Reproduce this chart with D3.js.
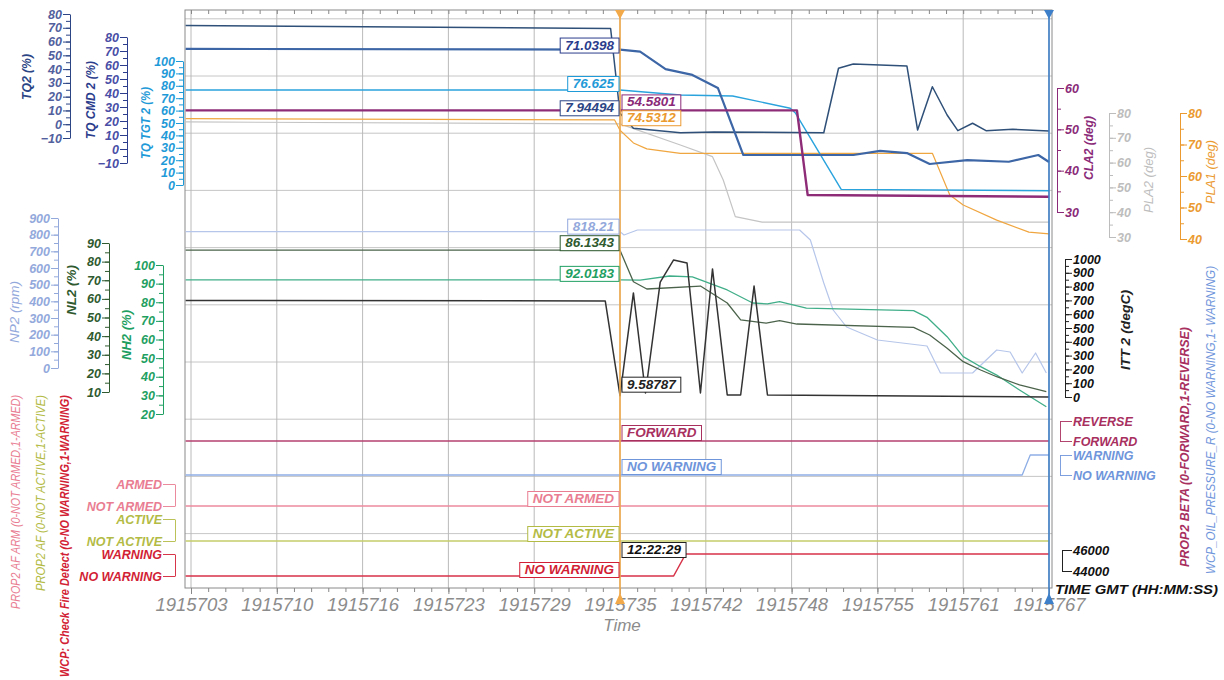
<!DOCTYPE html>
<html>
<head>
<meta charset="utf-8">
<script src="https://cdn.jsdelivr.net/npm/d3@7"></script>
<style>
body { margin: 0; background: #fff; }
text { font-family: "Liberation Sans", Arial, sans-serif; font-style: italic; }
</style>
</head>
<body>
<div id="chart"></div>
<script>
// ---- data (time in s, values in axis units) ----
const xTickLabels = ['1915703', '1915710', '1915716', '1915723', '1915729', '1915735',
    '1915742', '1915748', '1915755', '1915761', '1915767'];
const tStart = 1915703, tEnd = 1915767, tCursor = 1915735;

const tq2 = [[1915702.6, 71.6], [1915734.3, 69.5], [1915735, 7.94], [1915736, -3], [1915739.5, -6.2],
    [1915742, -5.6], [1915750.2, -6.2], [1915751.3, 40.6], [1915752.4, 43.7], [1915756.4, 42.3],
    [1915757.2, -4.2], [1915758.3, 27.2], [1915759.4, 6.7], [1915760.2, -4.7], [1915761.3, 0.7],
    [1915762.3, -4.7], [1915764.3, -3.7], [1915767, -4.9]];
const tqCmd2 = [[1915702.6, 71.5], [1915735, 71.04], [1915736.5, 69.6], [1915738.4, 57.1],
    [1915740.4, 52.9], [1915742.3, 43.6], [1915744.2, -4.3], [1915752.4, -4.3], [1915754.4, -1.4],
    [1915756.4, -2.9], [1915758.1, -10.7], [1915760.9, -7.9], [1915764, -9.1], [1915766.2, -4.3],
    [1915767, -9.3]];
const tqTgt2 = [[1915702.6, 76.625], [1915735, 76.625], [1915739.5, 72.6], [1915743.4, 71.8],
    [1915747.7, 61.9], [1915748.1, 57.8], [1915751.5, -3.5], [1915767, -4.6]];
const cla2 = [[1915702.6, 54.58], [1915748.2, 54.58], [1915749, 34.1], [1915767, 33.7]];
const pla2 = [[1915702.6, 76.4], [1915735, 75.6], [1915739.5, 67.1], [1915741.9, 62.4],
    [1915742.7, 53], [1915743.6, 38.2], [1915745.6, 36], [1915767, 36]];
const pla1 = [[1915702.6, 78.2], [1915734.6, 77.8], [1915735, 74.53], [1915736, 70.5],
    [1915737, 68.6], [1915739.5, 67.2], [1915758.3, 67.2], [1915759.6, 54], [1915760.6, 50.8],
    [1915763.1, 46], [1915765.5, 42.2], [1915767, 41.6]];

const np2 = [[1915702.6, 818.21], [1915735, 818.21], [1915735.3, 798], [1915736.3, 828],
    [1915748.4, 828], [1915749.2, 768], [1915750.2, 510], [1915750.9, 348], [1915751.9, 246],
    [1915754.2, 168], [1915757.9, 132], [1915758.9, -30], [1915761.3, -30], [1915763.1, 108],
    [1915764.1, 96], [1915765, -30], [1915766, 90], [1915766.8, -30]];
const nl2 = [[1915702.6, 86.13], [1915735, 86.13], [1915736, 69.2], [1915737, 65.3],
    [1915741, 66.9], [1915743, 57.8], [1915744, 48.7], [1915745.9, 47], [1915746.9, 48.3],
    [1915748.2, 46.5], [1915756.9, 44.7], [1915758.1, 40.6], [1915759.4, 33.5], [1915760.6, 26.3],
    [1915761.9, 21.8], [1915763.1, 18.2], [1915764.8, 13.8], [1915766.8, 10.2]];
const nh2 = [[1915702.6, 92.02], [1915735, 92.02], [1915736.5, 91.9], [1915738.7, 94.1],
    [1915740.4, 93.6], [1915743, 86.6], [1915744.9, 79.6], [1915746, 79.1], [1915746.9, 80.3],
    [1915748.9, 76.8], [1915756.9, 75.5], [1915757.9, 71.9], [1915759.4, 61.5], [1915760.6, 50.8],
    [1915761.9, 45.4], [1915763.1, 40.9], [1915764.8, 32.9], [1915766.8, 23.9]];
const itt2 = [[1915702.6, 700], [1915733.9, 696], [1915735, 9.59], [1915736, 754], [1915736.9, 29],
    [1915738, 833], [1915739, 993], [1915740, 971], [1915741, 29], [1915741.9, 928],
    [1915743, 14.5], [1915744, 14.5], [1915745, 804], [1915746, 14.5], [1915767, 0]];

const prop2Beta = [[1915702.6, 0], [1915767, 0]];
const oilPressure = [[1915702.6, 0], [1915765, 0], [1915765.6, 1], [1915767, 1]];
const afArm = [[1915702.6, 0], [1915767, 0]];
const afActive = [[1915702.6, 0], [1915767, 0]];
const fireDetect = [[1915702.6, 0], [1915739, 0], [1915739.9, 1], [1915767, 1]];

const timeTicks = [44000, 46000];

const cursorLabels = [
    {text: '71.0398', key: 'tqCmd2', side: 'left', dy: -4},
    {text: '76.625', key: 'tqTgt2', side: 'left', dy: -6},
    {text: '7.94494', key: 'tq2', side: 'left', dy: -5},
    {text: '54.5801', key: 'cla2', side: 'right', dy: -8},
    {text: '74.5312', key: 'pla1', side: 'right', dy: -12},
    {text: '818.21', key: 'np2', side: 'left', dy: -5},
    {text: '86.1343', key: 'nl2', side: 'left', dy: -7},
    {text: '92.0183', key: 'nh2', side: 'left', dy: -6},
    {text: '9.58787', key: 'itt2', side: 'right', dy: -11},
    {text: 'FORWARD', key: 'prop2Beta', side: 'right', dy: -8},
    {text: 'NO WARNING', key: 'oilPressure', side: 'right', dy: -8},
    {text: 'NOT ARMED', key: 'afArm', side: 'left', dy: -7},
    {text: 'NOT ACTIVE', key: 'afActive', side: 'left', dy: -7},
    {text: 'NO WARNING', key: 'fireDetect', side: 'left', dy: -6},
    {text: '12:22:29', key: 'fireDetect', side: 'right', dy: -26, color: '#111', border: '#222'}
];

// ---- layout ----
const W = 1224, H = 680;
const plot = {left: 185, right: 1052, top: 10, bottom: 588};
const gridTop = 18.8, gridStep = 57.2;
const fontStack = '"Liberation Sans", Arial, sans-serif';

const svg = d3.select('#chart').append('svg')
    .attr('width', W)
    .attr('height', H);

let x = d3.scaleLinear().domain([tStart, tEnd]).range([191, 1049]);
let xMajor = d3.range(11).map(i => tStart + i * 6.4);
let xMinor = d3.range(51).map(i => tStart + i * 1.28);

// numeric axes
let axes = {
    tq2: {title: 'TQ2 (%)', domain: [-10, 80], step: 10, range: [138, 14], x: 70, side: 'left',
        color: '#2b4585', tick: '#52609e', tx: 28, ty: 77, len: 46, bold: true},
    tqCmd2: {title: 'TQ CMD 2 (%)', domain: [-10, 80], step: 10, range: [163, 37], x: 127, side: 'left',
        color: '#2b3d8c', tick: '#4a4ea6', tx: 92, ty: 100, len: 78, bold: true},
    tqTgt2: {title: 'TQ TGT 2 (%)', domain: [0, 100], step: 10, range: [185, 61], x: 183, side: 'left',
        color: '#1f9ad8', tick: '#1f9ad8', tx: 147, ty: 123, len: 72, bold: true},
    np2: {title: 'NP2 (rpm)', domain: [0, 900], step: 100, range: [368, 218], x: 58, side: 'left',
        color: '#93a9dc', tick: '#93a9dc', tx: 16, ty: 312, len: 62, bold: false},
    nl2: {title: 'NL2 (%)', domain: [10, 90], step: 10, range: [392, 243], x: 109, side: 'left',
        color: '#2f5a2f', tick: '#2f5a2f', tx: 73, ty: 290, len: 50, bold: true},
    nh2: {title: 'NH2 (%)', domain: [20, 100], step: 10, range: [414, 265], x: 163, side: 'left',
        color: '#1f9f62', tick: '#1f9f62', tx: 128, ty: 335, len: 50, bold: true},
    cla2: {title: 'CLA2 (deg)', domain: [30, 60], step: 10, range: [212, 88], x: 1057, side: 'right',
        color: '#8a2a78', tick: '#8a2a78', tx: 1090, ty: 148, len: 64, bold: true},
    pla2: {title: 'PLA2 (deg)', domain: [30, 80], step: 10, range: [237, 113], x: 1109, side: 'right',
        color: '#bdbdbd', tick: '#bdbdbd', tx: 1150, ty: 180, len: 66, bold: false},
    pla1: {title: 'PLA1 (deg)', domain: [40, 80], step: 10, range: [239, 113], x: 1180, side: 'right',
        color: '#eb9a30', tick: '#eb9a30', tx: 1212, ty: 172, len: 64, bold: false},
    itt2: {title: 'ITT 2 (degC)', domain: [0, 1000], step: 100, range: [397, 259], x: 1065, side: 'right',
        color: '#222', tick: '#111', tx: 1127, ty: 330, len: 80, bold: true}
};

// two-state axes
let states = {
    prop2Beta: {title: 'PROP2 BETA (0-FORWARD,1-REVERSE)', labels: ['FORWARD', 'REVERSE'], range: [441, 421],
        x: 1060, side: 'right', color: '#a8305f', line: '#b5406f', tx: 1186, ty: 447, len: 240, bold: true},
    oilPressure: {title: 'WCP_OIL_PRESSURE_R (0-NO WARNING,1- WARNING)', labels: ['NO WARNING', 'WARNING'],
        range: [475, 455], x: 1060, side: 'right', color: '#6f95db', line: '#8eaee6', tx: 1212, ty: 420, len: 308, bold: false},
    afArm: {title: 'PROP2 AF ARM (0-NOT ARMED,1-ARMED)', labels: ['NOT ARMED', 'ARMED'], range: [506, 484],
        x: 175, side: 'left', color: '#e97d92', line: '#ec8a9c', tx: 17, ty: 502, len: 214, bold: false},
    afActive: {title: 'PROP2 AF (0-NOT ACTIVE,1-ACTIVE)', labels: ['NOT ACTIVE', 'ACTIVE'], range: [541, 519],
        x: 175, side: 'left', color: '#b3bb45', line: '#c5cc6a', tx: 42, ty: 493, len: 196, bold: false},
    fireDetect: {title: 'WCP: Check Fire Detect (0-NO WARNING,1-WARNING)', labels: ['NO WARNING', 'WARNING'],
        range: [576, 554], x: 175, side: 'left', color: '#d21f36', line: '#d63248', tx: 66, ty: 536, len: 282, bold: true}
};

let series = [
    {key: 'pla2', data: pla2, color: '#c4c4c4', w: 1.2},
    {key: 'pla1', data: pla1, color: '#f0a640', w: 1.2},
    {key: 'np2', data: np2, color: '#b6c6ea', w: 1.2},
    {key: 'tqTgt2', data: tqTgt2, color: '#2aa3dd', w: 1.4},
    {key: 'tq2', data: tq2, color: '#2f5078', w: 1.5},
    {key: 'tqCmd2', data: tqCmd2, color: '#3c66a6', w: 2.2},
    {key: 'cla2', data: cla2, color: '#8e2c78', w: 2.4},
    {key: 'nh2', data: nh2, color: '#40ae88', w: 1.3},
    {key: 'nl2', data: nl2, color: '#4b634b', w: 1.3},
    {key: 'itt2', data: itt2, color: '#333', w: 1.5},
    {key: 'prop2Beta', data: prop2Beta, w: 1.3},
    {key: 'oilPressure', data: oilPressure, w: 1.3},
    {key: 'afArm', data: afArm, w: 1.3},
    {key: 'afActive', data: afActive, w: 1.3},
    {key: 'fireDetect', data: fireDetect, w: 1.5}
];

let yScales = {};
Object.entries(axes).forEach(([k, a]) => yScales[k] = d3.scaleLinear().domain([a.domain[0], a.domain[1]]).range(a.range));
Object.entries(states).forEach(([k, s]) => yScales[k] = d3.scaleLinear().domain([0, 1]).range(s.range));

function rotatedTitle(cx, cy, txt, color, bold, len) {
    svg.append('text')
        .attr('transform', `translate(${cx}, ${cy}) rotate(-90)`)
        .attr('text-anchor', 'middle')
        .attr('dominant-baseline', 'middle')
        .attr('textLength', len)
        .attr('lengthAdjust', 'spacingAndGlyphs')
        .style('font-size', '12.5px')
        .style('font-weight', bold ? 'bold' : 'normal')
        .attr('fill', color)
        .text(txt);
}

// ---- grid + frame ----
let grid_g = svg.append('g').attr('class', 'grid');
grid_g.selectAll('.vgrid')
    .data(xMajor)
    .join('line')
    .attr('x1', d => x(d)).attr('x2', d => x(d))
    .attr('y1', plot.top).attr('y2', plot.bottom)
    .attr('stroke', '#a8a8a8').attr('stroke-width', 0.8);
grid_g.selectAll('.hgrid')
    .data(d3.range(10))
    .join('line')
    .attr('x1', plot.left).attr('x2', plot.right)
    .attr('y1', d => gridTop + d * gridStep).attr('y2', d => gridTop + d * gridStep)
    .attr('stroke', '#b8b8b8').attr('stroke-width', 0.8);

svg.append('rect')
    .attr('x', plot.left).attr('y', plot.top)
    .attr('width', plot.right - plot.left).attr('height', plot.bottom - plot.top)
    .attr('fill', 'none').attr('stroke', '#8a8a8a').attr('stroke-width', 1);

// x axis
let xAxis_g = svg.append('g')
    .attr('transform', `translate(0, ${plot.bottom})`)
    .call(d3.axisBottom(x).tickValues(xMajor).tickFormat((d, i) => xTickLabels[i]).tickSize(6).tickPadding(4).tickSizeOuter(0));
xAxis_g.select('.domain').remove();
xAxis_g.selectAll('line').attr('stroke', '#888');
xAxis_g.selectAll('text')
    .style('font-size', '18.5px').style('font-family', fontStack)
    .attr('fill', '#8c8c8c');
svg.append('g')
    .attr('transform', `translate(0, ${plot.bottom})`)
    .call(d3.axisBottom(x).tickValues(xMinor).tickSize(4).tickFormat('').tickSizeOuter(0))
    .call(g => g.select('.domain').remove())
    .selectAll('line').attr('stroke', '#888');
svg.append('g')
    .attr('transform', `translate(0, ${plot.top})`)
    .call(d3.axisBottom(x).tickValues(xMinor).tickSize(4).tickFormat('').tickSizeOuter(0))
    .call(g => g.select('.domain').remove())
    .selectAll('line').attr('stroke', '#888');

svg.append('text')
    .attr('x', 622).attr('y', 631)
    .attr('text-anchor', 'middle')
    .style('font-size', '17px')
    .attr('fill', '#8c8c8c')
    .text('Time');

// ---- numeric axes ----
Object.entries(axes).forEach(([k, a]) => {
    let y = yScales[k];
    let major = d3.range(a.domain[0], a.domain[1] + 1e-6, a.step);
    let minor = d3.range(a.domain[0], a.domain[1] + 1e-6, a.step / 2);
    let axis = a.side === 'left' ? d3.axisLeft(y) : d3.axisRight(y);
    let g = svg.append('g').attr('transform', `translate(${a.x}, 0)`);
    g.call(axis.tickValues(major).tickFormat(d3.format('d')).tickSize(7).tickPadding(1).tickSizeOuter(0));
    g.select('.domain').attr('stroke', a.color);
    g.selectAll('.tick line').attr('stroke', a.color);
    g.selectAll('.tick text')
        .attr('fill', a.tick)
        .style('font-size', '12.5px')
        .style('font-weight', 'bold')
        .style('font-family', fontStack);
    let mAxis = a.side === 'left' ? d3.axisLeft(y) : d3.axisRight(y);
    svg.append('g').attr('transform', `translate(${a.x}, 0)`)
        .call(mAxis.tickValues(minor).tickSize(4).tickFormat('').tickSizeOuter(0))
        .call(g => g.select('.domain').remove())
        .selectAll('line').attr('stroke', a.color);

    rotatedTitle(a.tx, a.ty, a.title, a.color, a.bold, a.len);
});

// ---- two-state axes (brackets) ----
Object.entries(states).forEach(([k, s]) => {
    let y = yScales[k];
    let axis = s.side === 'left' ? d3.axisLeft(y) : d3.axisRight(y);
    let g = svg.append('g').attr('transform', `translate(${s.x}, 0)`);
    g.call(axis.tickValues([0, 1]).tickFormat(d => s.labels[d]).tickSize(12).tickPadding(1).tickSizeOuter(0));
    g.select('.domain').attr('stroke', s.color).attr('stroke-width', 0.9);
    g.selectAll('.tick line').attr('stroke', s.color).attr('stroke-width', 0.9);
    g.selectAll('.tick text')
        .attr('fill', s.color)
        .style('font-size', '12.5px')
        .style('font-weight', 'bold')
        .style('font-family', fontStack);
    rotatedTitle(s.tx, s.ty, s.title, s.color, s.bold, s.len);
});

// time axis
let timeY = d3.scaleLinear().domain([44000, 46000]).range([571, 550]);
let time_g = svg.append('g').attr('transform', 'translate(1062, 0)')
    .call(d3.axisRight(timeY).tickValues(timeTicks).tickFormat(d3.format('d')).tickSize(10).tickPadding(1).tickSizeOuter(0));
time_g.select('.domain').attr('stroke', '#222');
time_g.selectAll('.tick line').attr('stroke', '#222');
time_g.selectAll('.tick text')
    .attr('fill', '#111')
    .style('font-size', '13px').style('font-weight', 'bold')
    .style('font-family', fontStack);
svg.append('text')
    .attr('x', 1055).attr('y', 594)
    .attr('textLength', 163)
    .attr('lengthAdjust', 'spacingAndGlyphs')
    .style('font-size', '13.5px').style('font-weight', 'bold')
    .attr('fill', '#111')
    .text('TIME GMT (HH:MM:SS)');

// ---- lines ----
let line_g = svg.append('g').attr('class', 'lines');
series.forEach(s => {
    let y = yScales[s.key];
    let color = s.color || states[s.key].line;
    line_g.append('path')
        .datum(s.data)
        .attr('fill', 'none')
        .attr('stroke', color)
        .attr('stroke-width', s.w)
        .attr('stroke-linejoin', 'round')
        .attr('d', d3.line().x(d => x(d[0])).y(d => y(d[1])));
});

// ---- cursors ----
function drawCursor(t, color) {
    let cx = x(t);
    svg.append('line')
        .attr('x1', cx).attr('x2', cx)
        .attr('y1', plot.top).attr('y2', plot.bottom + 8)
        .attr('stroke', color).attr('stroke-width', 1.6);
    svg.append('path')
        .attr('d', `M${cx - 5},${plot.top} L${cx + 5},${plot.top} L${cx},${plot.top + 9} Z`)
        .attr('fill', color);
    svg.append('path')
        .attr('d', `M${cx - 5},${plot.bottom + 16} L${cx + 5},${plot.bottom + 16} L${cx},${plot.bottom + 5} Z`)
        .attr('fill', color);
}
drawCursor(tCursor, '#f2a94a');
drawCursor(tEnd, '#3d7fc8');

// ---- value boxes at the cursor ----
function valueAt(data, t) {
    let i = d3.bisector(d => d[0]).left(data, t);
    let p = data[Math.min(i, data.length - 1)];
    return p[1];
}
let label_g = svg.append('g').attr('class', 'cursor-labels');
cursorLabels.forEach(l => {
    let s = series.find(d => d.key === l.key);
    let isState = !!states[l.key];
    let color = l.color || (isState ? states[l.key].color : axes[l.key].color);
    let border = l.border || color;
    let cy = yScales[l.key](valueAt(s.data, tCursor)) + l.dy;
    let cx = x(tCursor);
    let g = label_g.append('g');
    let txt = g.append('text')
        .attr('dominant-baseline', 'middle')
        .style('font-size', '13.5px')
        .style('font-weight', 'bold')
        .attr('fill', color)
        .text(l.text);
    let w = txt.node().getComputedTextLength() + 10;
    let bx = l.side === 'left' ? cx - 1 - w : cx + 2;
    g.insert('rect', 'text')
        .attr('x', bx).attr('y', cy - 7.5)
        .attr('width', w).attr('height', 15)
        .attr('fill', '#fff')
        .attr('stroke', border).attr('stroke-width', 1);
    txt.attr('x', bx + 5).attr('y', cy + 0.5);
});
</script>
</body>
</html>
